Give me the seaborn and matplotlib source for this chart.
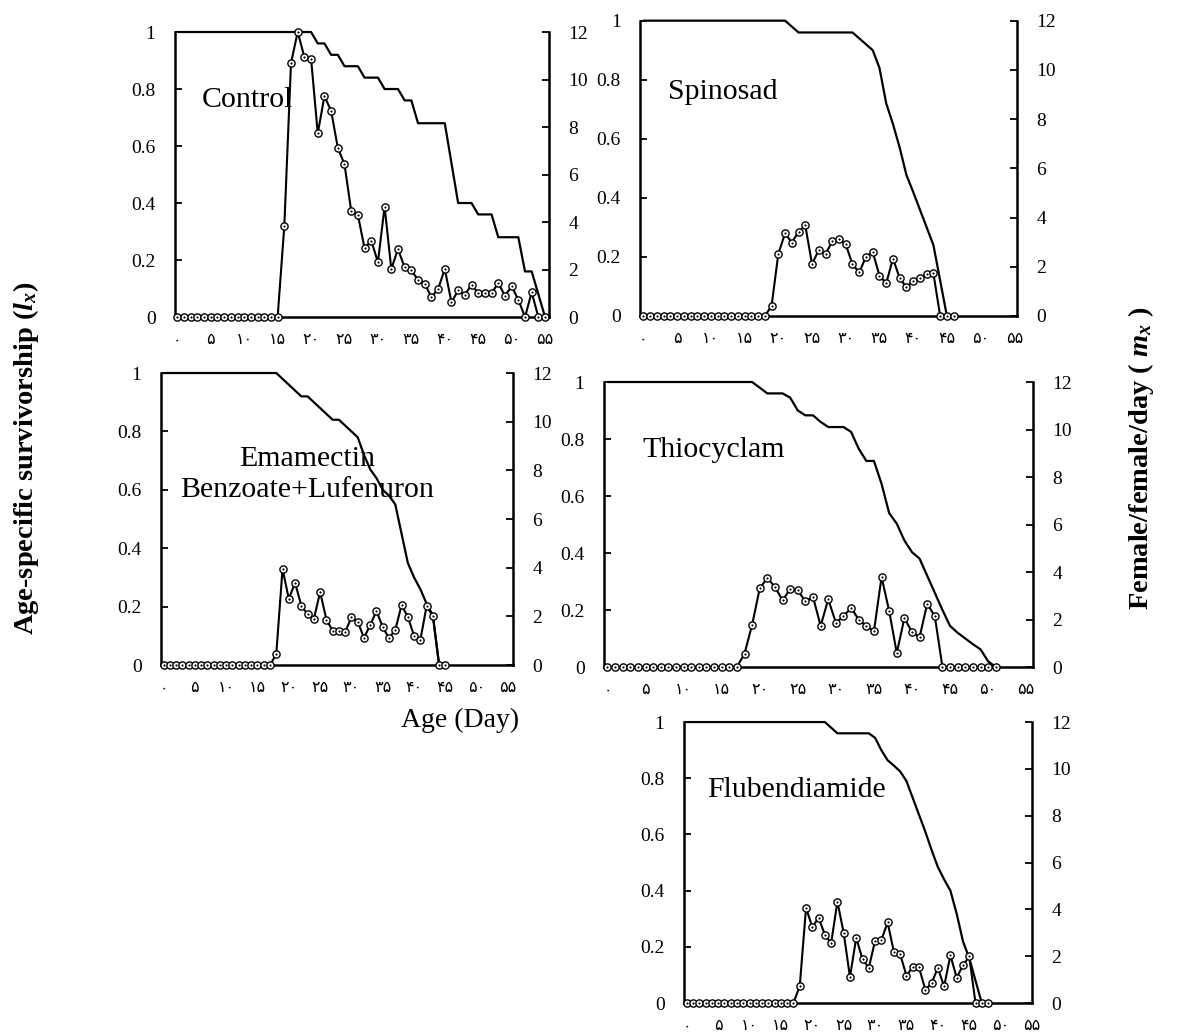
import matplotlib
matplotlib.use("Agg")
import matplotlib.pyplot as plt
import seaborn as sns
import numpy as np
import pandas as pd

# ---------------- data ----------------
persian_ticks = ["۰", "۵", "۱۰", "۱۵", "۲۰", "۲۵", "۳۰", "۳۵", "۴۰", "۴۵", "۵۰", "۵۵"]
tick_days = [0, 5, 10, 15, 20, 25, 30, 35, 40, 45, 50, 55]

control_lx = [1, 1, 1, 1, 1, 1, 1, 1, 1, 1, 1, 1, 1, 1, 1, 1, 1, 1, 1, 1, 1,
              0.96, 0.96, 0.92, 0.92, 0.88, 0.88, 0.88, 0.84, 0.84, 0.84,
              0.80, 0.80, 0.80, 0.76, 0.76, 0.68, 0.68, 0.68, 0.68, 0.68,
              0.54, 0.40, 0.40, 0.40, 0.36, 0.36, 0.36, 0.28, 0.28, 0.28, 0.28,
              0.16, 0.16, 0.08, 0.0]
control_mx = [0, 0, 0, 0, 0, 0, 0, 0, 0, 0, 0, 0, 0, 0, 0, 0,
              3.84, 10.7, 12.0, 10.95, 10.88, 7.73, 9.3, 8.68, 7.13, 6.43,
              4.48, 4.3, 2.9, 3.22, 2.31, 4.65, 2.02, 2.86, 2.09, 1.96,
              1.57, 1.4, 0.84, 1.18, 2.02, 0.62, 1.12, 0.94, 1.36, 1.01,
              1.01, 1.01, 1.43, 0.9, 1.29, 0.73, 0, 1.04, 0, 0]

spinosad_lx = [1, 1, 1, 1, 1, 1, 1, 1, 1, 1, 1, 1, 1, 1, 1, 1, 1, 1, 1, 1, 1, 1,
               0.98, 0.96, 0.96, 0.96, 0.96, 0.96, 0.96, 0.96, 0.96, 0.96, 0.94, 0.92,
               0.90, 0.84, 0.72, 0.65, 0.57, 0.477, 0.42, 0.36, 0.30, 0.24,
               0.12, 0.0, 0.0]
spinosad_mx = [0, 0, 0, 0, 0, 0, 0, 0, 0, 0, 0, 0, 0, 0, 0, 0, 0, 0, 0,
               0.41, 2.52, 3.36, 2.98, 3.43, 3.68, 2.11, 2.68, 2.52, 3.03, 3.12,
               2.91, 2.1, 1.77, 2.41, 2.6, 1.64, 1.33, 2.33, 1.54, 1.16,
               1.44, 1.56, 1.71, 1.73, 0, 0, 0]

emamectin_lx = [1, 1, 1, 1, 1, 1, 1, 1, 1, 1, 1, 1, 1, 1, 1, 1, 1, 1, 1,
                0.98, 0.96, 0.94, 0.92, 0.92, 0.90, 0.88, 0.86, 0.84, 0.84,
                0.82, 0.80, 0.78, 0.72, 0.67, 0.64, 0.60, 0.58, 0.55, 0.45,
                0.35, 0.30, 0.26, 0.21, 0.17, 0.0, 0.0]
emamectin_mx = [0, 0, 0, 0, 0, 0, 0, 0, 0, 0, 0, 0, 0, 0, 0, 0, 0, 0,
                0.45, 3.95, 2.72, 3.38, 2.44, 2.08, 1.89, 3.0, 1.87, 1.41,
                1.41, 1.36, 1.96, 1.78, 1.12, 1.64, 2.23, 1.55, 1.11, 1.44,
                2.46, 1.98, 1.2, 1.03, 2.42, 2.01, 0, 0]

thiocyclam_lx = [1, 1, 1, 1, 1, 1, 1, 1, 1, 1, 1, 1, 1, 1, 1, 1, 1, 1, 1, 1,
                 0.98, 0.96, 0.96, 0.96, 0.945, 0.90, 0.883, 0.883, 0.86, 0.842,
                 0.842, 0.842, 0.825, 0.766, 0.723, 0.723, 0.643, 0.54, 0.503,
                 0.444, 0.403, 0.38, 0.32, 0.26, 0.20, 0.144, 0.12, 0.10, 0.08,
                 0.062, 0.02, 0.0]
thiocyclam_mx = [0, 0, 0, 0, 0, 0, 0, 0, 0, 0, 0, 0, 0, 0, 0, 0, 0, 0,
                 0.56, 1.78, 3.31, 3.75, 3.37, 2.81, 3.28, 3.23, 2.76, 2.95,
                 1.73, 2.85, 1.87, 2.13, 2.5, 1.99, 1.73, 1.5, 3.79, 2.36,
                 0.59, 2.06, 1.47, 1.26, 2.67, 2.13, 0, 0, 0, 0, 0, 0, 0, 0]

flubendiamide_lx = [1, 1, 1, 1, 1, 1, 1, 1, 1, 1, 1, 1, 1, 1, 1, 1, 1, 1, 1, 1, 1, 1, 1,
                    0.98, 0.96, 0.96, 0.96, 0.96, 0.96, 0.96, 0.944, 0.90, 0.864,
                    0.845, 0.824, 0.79, 0.73, 0.67, 0.61, 0.545, 0.484, 0.44,
                    0.40, 0.318, 0.22, 0.16, 0.08, 0.0, 0.0]
flubendiamide_mx = [0, 0, 0, 0, 0, 0, 0, 0, 0, 0, 0, 0, 0, 0, 0, 0, 0, 0,
                    0.73, 4.06, 3.25, 3.64, 2.92, 2.56, 4.33, 2.99, 1.11, 2.79,
                    1.86, 1.51, 2.65, 2.7, 3.44, 2.18, 2.08, 1.17, 1.54, 1.52,
                    0.57, 0.85, 1.5, 0.71, 2.04, 1.08, 1.61, 1.99, 0, 0, 0]

panels = [
    # name, lx, mx, axes rect, label pos, xlim
    ("Control", control_lx, control_mx, [0.1487, 0.6931, 0.3178, 0.2759], (0.071, 0.76, "left"), (-0.35, 55.6)),
    ("Spinosad", spinosad_lx, spinosad_mx, [0.5438, 0.6941, 0.3203, 0.2859], (0.074, 0.76, "left"), (-0.5, 55.4)),
    ("Emamectin\nBenzoate+Lufenuron", emamectin_lx, emamectin_mx, [0.1368, 0.3562, 0.2991, 0.2827], (0.415, 0.652, "center"), (-0.4, 55.8)),
    ("Thiocyclam", thiocyclam_lx, thiocyclam_mx, [0.5132, 0.3543, 0.3645, 0.2759], (0.089, 0.76, "left"), (-0.45, 55.9)),
    ("Flubendiamide", flubendiamide_lx, flubendiamide_mx, [0.5811, 0.0290, 0.2957, 0.2720], (0.066, 0.758, "left"), (-0.45, 55.0)),
]

# ---------------- style ----------------
sns.set_style("white")
plt.rcParams["font.family"] = ["Liberation Serif", "DejaVu Sans"]
plt.rcParams["text.color"] = "black"
plt.rcParams["axes.labelcolor"] = "black"
plt.rcParams["xtick.color"] = "black"
plt.rcParams["ytick.color"] = "black"
plt.rcParams["mathtext.fontset"] = "custom"
plt.rcParams["mathtext.it"] = "Liberation Serif:bold:italic"
plt.rcParams["mathtext.rm"] = "Liberation Serif:bold"
plt.rcParams["mathtext.bf"] = "Liberation Serif:bold"

fig = plt.figure(figsize=(11.77, 10.33), dpi=100)
fig.patch.set_facecolor("white")

SPINE_W = 1.8

for name, lx, mx, rect, lab, xlim in panels:
    days = np.arange(len(lx))
    df = pd.DataFrame({"day": days, "lx": lx, "mx": mx})
    ax = fig.add_axes(rect)
    ax.set_facecolor("none")
    ax2 = ax.twinx()

    sns.lineplot(data=df, x="day", y="lx", ax=ax, color="black", lw=1.6, clip_on=False)
    sns.lineplot(data=df, x="day", y="mx", ax=ax2, color="black", lw=1.5,
                 marker="o", markersize=5.2, markerfacecolor="white",
                 markeredgecolor="black", markeredgewidth=1.0, clip_on=False)
    sns.scatterplot(data=df, x="day", y="mx", ax=ax2, color="black", s=2.5,
                    marker="o", linewidth=0, clip_on=False, zorder=5)

    ax.set_xlim(*xlim)
    ax2.set_xlim(*xlim)
    ax.set_ylim(0, 1)
    ax2.set_ylim(0, 12)

    ax.set_xticks(tick_days)
    ax.set_xticklabels(persian_ticks, fontfamily="DejaVu Sans", fontsize=11.5)
    ax.set_yticks([0, 0.2, 0.4, 0.6, 0.8, 1.0])
    ax.set_yticklabels(["0", "0.2", "0.4", "0.6", "0.8", "1"], fontsize=14)
    ax2.set_yticks([0, 2, 4, 6, 8, 10, 12])
    ax2.set_yticklabels(["0", "2", "4", "6", "8", "10", "12"], fontsize=14)

    ax.tick_params(axis="x", direction="in", length=5, width=1.3, pad=11, colors="black")
    ax.tick_params(axis="y", direction="in", length=5, width=1.3, pad=14, colors="black")
    ax2.tick_params(axis="y", direction="in", length=5, width=1.3, pad=14, colors="black")

    ax.set_xlabel("")
    ax.set_ylabel("")
    ax2.set_xlabel("")
    ax2.set_ylabel("")

    for s in ["top", "right"]:
        ax.spines[s].set_visible(False)
    for s in ["top", "left", "bottom"]:
        ax2.spines[s].set_visible(False)
    for s in ["left", "bottom"]:
        ax.spines[s].set_linewidth(SPINE_W)
        ax.spines[s].set_color("black")
    ax2.spines["right"].set_linewidth(SPINE_W)
    ax2.spines["right"].set_color("black")

    lx_, ly_, ha = lab
    ax.text(lx_, ly_, name, transform=ax.transAxes, ha=ha, va="center",
            fontsize=21.5, fontfamily="Liberation Serif", color="black",
            linespacing=1.22, zorder=10)

fig.text(0.0225, 0.556, r"Age-specific survivorship ($l_x$)", rotation=90,
         ha="center", va="center", fontsize=20.5, fontweight="bold", color="black")
fig.text(0.969, 0.556, r"Female/female/day ( $m_x$ )", rotation=90,
         ha="center", va="center", fontsize=20.5, fontweight="bold", color="black")
fig.text(0.391, 0.303, "Age (Day)", ha="center", va="center", fontsize=20, color="black")

fig.savefig("out.png", dpi=100, facecolor="white")
